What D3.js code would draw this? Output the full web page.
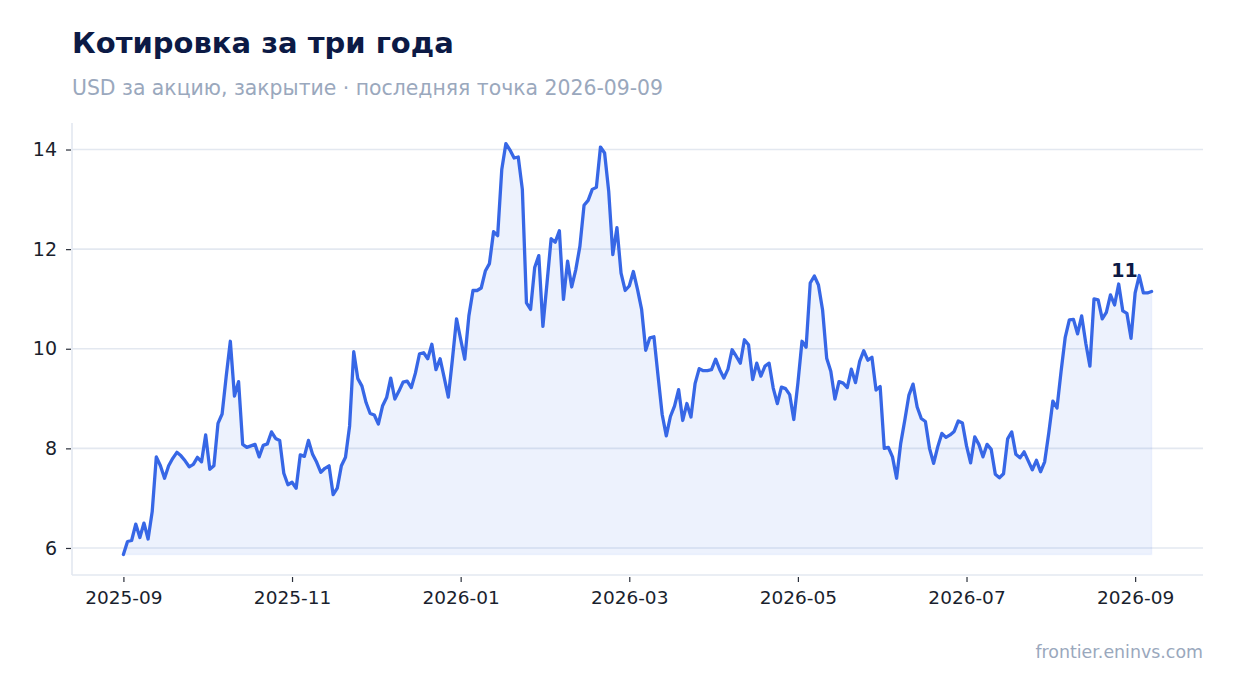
<!DOCTYPE html>
<html><head><meta charset="utf-8">
<script src="https://cdn.jsdelivr.net/npm/d3@7"></script>
<style>
html,body{margin:0;padding:0;background:#fff;}
svg{display:block;font-family:"DejaVu Sans",sans-serif;}
</style></head>
<body>
<svg id="chart" width="1234" height="693"></svg>
<script>
const prices = [
5.87,6.13,6.15,6.48,6.21,6.50,6.18,6.73,7.83,7.65,
7.40,7.65,7.80,7.92,7.85,7.75,7.63,7.68,7.82,7.73,
8.27,7.58,7.65,8.50,8.69,9.45,10.15,9.05,9.34,8.08,
8.02,8.05,8.08,7.83,8.06,8.09,8.33,8.20,8.16,7.50,
7.27,7.32,7.20,7.87,7.84,8.16,7.88,7.72,7.52,7.60,
7.65,7.07,7.20,7.65,7.82,8.45,9.94,9.40,9.25,8.92,
8.70,8.67,8.49,8.85,9.02,9.41,8.99,9.15,9.33,9.35,
9.22,9.51,9.90,9.92,9.80,10.09,9.58,9.80,9.42,9.03,
9.79,10.60,10.19,9.79,10.66,11.17,11.17,11.22,11.56,11.71,
12.35,12.27,13.60,14.12,13.99,13.83,13.85,13.20,10.92,10.79,
11.63,11.87,10.45,11.32,12.21,12.14,12.37,10.99,11.76,11.24,
11.59,12.06,12.88,12.98,13.20,13.24,14.05,13.93,13.16,11.89,
12.43,11.52,11.17,11.26,11.55,11.19,10.79,9.97,10.22,10.24,
9.45,8.68,8.25,8.64,8.85,9.18,8.56,8.90,8.63,9.30,
9.60,9.56,9.56,9.58,9.79,9.58,9.41,9.59,9.98,9.85,
9.71,10.18,10.08,9.38,9.71,9.45,9.65,9.71,9.21,8.90,
9.23,9.20,9.08,8.58,9.31,10.15,10.03,11.32,11.46,11.28,
10.78,9.81,9.55,8.99,9.34,9.31,9.22,9.59,9.32,9.74,
9.96,9.77,9.83,9.17,9.24,8.00,8.02,7.83,7.40,8.10,
8.57,9.07,9.29,8.83,8.60,8.54,8.00,7.70,8.03,8.30,
8.22,8.27,8.34,8.55,8.51,8.05,7.71,8.23,8.08,7.83,
8.08,7.98,7.48,7.41,7.49,8.19,8.33,7.88,7.81,7.93,
7.75,7.57,7.76,7.53,7.73,8.31,8.95,8.81,9.55,10.23,
10.58,10.59,10.30,10.66,10.11,9.65,11.00,10.98,10.60,10.73,
11.08,10.88,11.30,10.76,10.71,10.21,11.12,11.47,11.12,11.12,
11.15
];
const yTicks = [6, 8, 10, 12, 14];
const xTickLabels = ["2025-09","2025-11","2026-01","2026-03","2026-05","2026-07","2026-09"];
const xTickIndex = [0, 41, 82, 123, 164, 205, 246];
const titleText = "Котировка за три года";
const subtitleText = "USD за акцию, закрытие · последняя точка 2026-09-09";
const sourceText = "frontier.eninvs.com";
const lastLabel = "11";

const N = prices.length;
const data = prices.map((v,i) => ({i: i, value: v}));

const svg = d3.select("#chart");
const L = 72, R = 1203, T = 123, B = 575;

const xPad = (N - 1) * 0.05;
const x = d3.scaleLinear().domain([-xPad, N - 1 + xPad]).range([L, R]);
const [vmin, vmax] = d3.extent(prices);
const yPad = (vmax - vmin) * 0.05;
const y = d3.scaleLinear().domain([vmin - yPad, vmax + yPad]).range([B, T]);

// gridlines
svg.append("g").selectAll("line").data(yTicks).join("line")
  .attr("x1", L).attr("x2", R)
  .attr("y1", d => y(d)).attr("y2", d => y(d))
  .attr("stroke", "#e3e8f0").attr("stroke-width", 1.6);

// area
const area = d3.area().x(d => x(d.i)).y0(y(vmin)).y1(d => y(d.value));
svg.append("path").datum(data).attr("d", area)
  .attr("fill", "#3b6ae6").attr("fill-opacity", 0.09)
  .attr("stroke", "#3b6ae6").attr("stroke-opacity", 0.06).attr("stroke-width", 1.5);

// line
const line = d3.line().x(d => x(d.i)).y(d => y(d.value));
svg.append("path").datum(data).attr("d", line)
  .attr("fill", "none").attr("stroke", "#3767e6").attr("stroke-width", 3.3)
  .attr("stroke-linejoin", "round").attr("stroke-linecap", "round");

// spines
svg.append("line").attr("x1", L).attr("x2", L).attr("y1", T).attr("y2", B)
  .attr("stroke", "#e3e8f0").attr("stroke-width", 1.6);
svg.append("line").attr("x1", L).attr("x2", R).attr("y1", B).attr("y2", B)
  .attr("stroke", "#e3e8f0").attr("stroke-width", 1.6);

// axes
const yAxis = d3.axisLeft(y).tickValues(yTicks).tickSize(5).tickPadding(9).tickFormat(d3.format("d"));
const gy = svg.append("g").attr("transform", `translate(${L - 1},0)`).call(yAxis);
gy.select(".domain").remove();
gy.selectAll(".tick line").attr("stroke", "#2a2f3a").attr("stroke-width", 1.2);
gy.selectAll(".tick text").attr("fill", "#1a1f2e").attr("font-size", 19).attr("font-family", "DejaVu Sans");

const xAxis = d3.axisBottom(x).tickValues(xTickIndex)
  .tickSize(5).tickPadding(9).tickFormat((d, k) => xTickLabels[k]);
const gx = svg.append("g").attr("transform", `translate(0,${B + 2})`).call(xAxis);
gx.select(".domain").remove();
gx.selectAll(".tick line").attr("stroke", "#2a2f3a").attr("stroke-width", 1.2);
gx.selectAll(".tick text").attr("fill", "#1a1f2e").attr("font-size", 18.5).attr("font-family", "DejaVu Sans");

// last value label
const last = data[data.length - 1];
svg.append("text").attr("x", x(last.i) - 27).attr("y", y(last.value) - 14)
  .attr("text-anchor", "middle").attr("font-weight", "bold").attr("font-size", 19)
  .attr("fill", "#0c1a45").text(lastLabel);

// titles
svg.append("text").attr("x", 72).attr("y", 53).attr("font-size", 29).attr("font-weight", "bold")
  .attr("fill", "#0c1a45").text(titleText);
svg.append("text").attr("x", 72).attr("y", 95).attr("font-size", 20.4)
  .attr("fill", "#9aa8bd").text(subtitleText);
svg.append("text").attr("x", 1203).attr("y", 658).attr("text-anchor", "end").attr("font-size", 17.4)
  .attr("fill", "#9aa8bd").text(sourceText);
</script>
</body></html>
